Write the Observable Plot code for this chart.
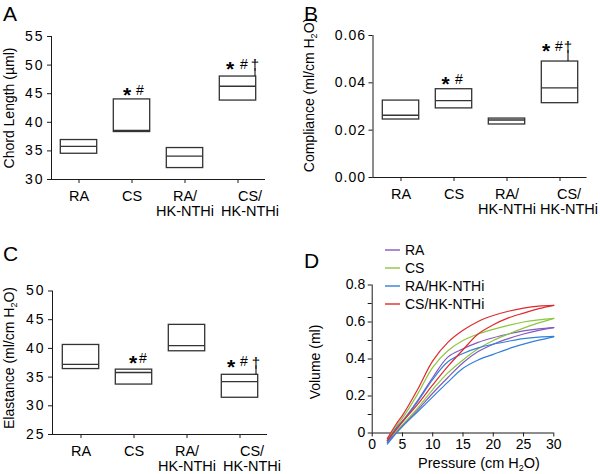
<!DOCTYPE html>
<html>
<head>
<meta charset="utf-8">
<script src="https://cdn.jsdelivr.net/npm/d3@7"></script>
<script src="https://cdn.jsdelivr.net/npm/@observablehq/plot@0.6"></script>
<style>
  html, body { margin: 0; padding: 0; background: #fff; }
  #wrap { position: relative; width: 600px; height: 474px; overflow: hidden;
          font-family: "Liberation Sans", Arial, sans-serif; color: #000; }
  .panel { position: absolute; }
  .ttl { position: absolute; white-space: nowrap; font-size: 14px; line-height: 1; }
  .rot { transform: translate(-50%, -50%) rotate(-90deg); }
  .ttl sub { font-size: 9px; vertical-align: -3px; line-height: 0; }
  .letter { position: absolute; font-size: 21px; line-height: 21px; }
  .sp2 [aria-label="y-axis tick label"] text { letter-spacing: 2px; }
  .sp1 [aria-label="y-axis tick label"] text { letter-spacing: 1px; }
  #legend { position: absolute; left: 385px; top: 241px; font-size: 14px; }
  #legend .row { display: flex; align-items: center; height: 18px; }
  #legend svg { margin-right: 5px; display: block; }
</style>
</head>
<body>
<div id="wrap">
  <div class="panel" id="pA" style="left:0;top:0"></div>
  <div class="panel" id="pB" style="left:300px;top:0"></div>
  <div class="panel" id="pC" style="left:0;top:237px"></div>
  <div class="panel" id="pD" style="left:300px;top:237px"></div>

  <div class="letter" style="left:3px;top:3px">A</div>
  <div class="letter" style="left:304px;top:3px">B</div>
  <div class="letter" style="left:3px;top:243px">C</div>
  <div class="letter" style="left:304px;top:250px">D</div>

  <div class="ttl rot" style="left:9px;top:108px">Chord Length (µml)</div>
  <div class="ttl rot" style="left:309px;top:95px">Compliance (ml/cm H<sub>2</sub>O)</div>
  <div class="ttl rot" style="left:9px;top:358px">Elastance (ml/cm H<sub>2</sub>O)</div>
  <div class="ttl rot" style="left:315px;top:362px">Volume (ml)</div>
  <div class="ttl" style="left:479px;top:463px;transform:translate(-50%,-50%);font-size:14.5px">Pressure (cm H<sub>2</sub>O)</div>

  <div id="legend"></div>
</div>
<script>
// ---------- data ----------
const groups = ["RA", "CS", "RA/HK-NTHi", "CS/HK-NTHi"];
const groupTickLabels = ["RA", "CS", "RA/\nHK-NTHi", "CS/\nHK-NTHi"];
const significance = ["", "*#", "", "*#†"];

const chordLow    = [34.5, 38.3, 32.0, 43.8];
const chordMedian = [35.8, 38.6, 34.1, 46.3];
const chordHigh   = [36.9, 44.0, 35.5, 48.0];
const chordTicks  = [30, 35, 40, 45, 50, 55];

const complianceLow    = [0.0245, 0.0292, 0.0224, 0.0314];
const complianceMedian = [0.0263, 0.0325, 0.0243, 0.0379];
const complianceHigh   = [0.0325, 0.0373, 0.0249, 0.0490];
const complianceTicks  = [0, 0.02, 0.04, 0.06];

const elastanceLow    = [36.4, 33.7, 39.5, 31.4];
const elastanceMedian = [37.2, 35.8, 40.5, 34.2];
const elastanceHigh   = [40.6, 36.3, 44.1, 35.4];
const elastanceTicks  = [25, 30, 35, 40, 45, 50];

const pressure = [2.5, 4, 5, 7.5, 10, 12.5, 15, 17.5, 20, 22.5, 25, 27.5, 30];
const inflationRA   = [-0.05, 0.005, 0.04, 0.125, 0.215, 0.30, 0.38, 0.44, 0.48, 0.51, 0.535, 0.555, 0.57];
const deflationRA   = [-0.04, 0.03, 0.065, 0.175, 0.30, 0.41, 0.455, 0.49, 0.515, 0.535, 0.552, 0.563, 0.57];
const inflationCS   = [-0.04, 0.01, 0.045, 0.135, 0.235, 0.325, 0.395, 0.455, 0.50, 0.535, 0.567, 0.595, 0.62];
const deflationCS   = [-0.03, 0.04, 0.08, 0.21, 0.355, 0.445, 0.50, 0.535, 0.56, 0.582, 0.60, 0.612, 0.62];
const inflationRAHK = [-0.06, 0.0, 0.035, 0.115, 0.195, 0.275, 0.35, 0.395, 0.425, 0.455, 0.48, 0.502, 0.52];
const deflationRAHK = [-0.05, 0.025, 0.06, 0.17, 0.29, 0.385, 0.43, 0.46, 0.48, 0.496, 0.51, 0.518, 0.522];
const inflationCSHK = [-0.04, 0.02, 0.06, 0.155, 0.26, 0.36, 0.45, 0.535, 0.585, 0.622, 0.648, 0.672, 0.69];
const deflationCSHK = [-0.03, 0.05, 0.095, 0.235, 0.39, 0.49, 0.555, 0.603, 0.635, 0.658, 0.675, 0.686, 0.69];
const pressureTicks = [0, 5, 10, 15, 20, 25, 30];
const volumeTicks = [0, 0.1, 0.2, 0.3, 0.4, 0.5, 0.6, 0.7, 0.8];

const seriesColors = ["#8459c0", "#8cc63f", "#3380d8", "#de2a2f"];

// ---------- helpers ----------
const FONT = "font-family:'Liberation Sans',Arial,sans-serif;font-size:14px;color:#000;background:transparent;overflow:visible;";
const INK = "#1a1a1a";
const BOX = "#333";

function boxPanel({low, median, high, domain, ticks, format, margins, annot, spacing, lastShift}) {
  const rows = groups.map((g, i) => ({group: g, low: low[i], median: median[i], high: high[i], sig: significance[i]}));
  const marks = [
    Plot.barY(rows, {x: "group", y1: "low", y2: "high", fill: "white", stroke: BOX, strokeWidth: 1.3, insetLeft: 8.3, insetRight: 8.3}),
    Plot.tickY(rows, {x: "group", y: "median", stroke: BOX, strokeWidth: 1.3, insetLeft: 8.3, insetRight: 8.3}),
    Plot.axisY({ticks, tickFormat: format, tickSize: 4, tickPadding: 3, label: null, stroke: INK, fontSize: 14}),
    Plot.axisX({tickSize: 4, tickFormat: null, label: null, stroke: INK}),
    Plot.ruleY([domain[0]], {stroke: INK}),
    Plot.frame({anchor: "left", stroke: INK})
  ];
  // category labels (two-line); the last one sits a little to the right as in the figure
  rows.forEach((r, i) => {
    marks.push(Plot.text([r], {x: "group", y: () => domain[0], text: () => groupTickLabels[i],
      lineAnchor: "top", fontSize: 14.5, lineHeight: 1.06, dy: 10.5, dx: i === rows.length - 1 ? lastShift : 0, fill: "#000"}));
  });
  for (const r of rows) {
    if (!r.sig) continue;
    const a = r.sig.length === 2 ? annot.two : annot.three;
    marks.push(Plot.text([r], {x: "group", y: "high", text: () => "*", fontSize: 21, fontWeight: "bold", dx: a.star, dy: -a.up + 5, fill: "#000"}));
    marks.push(Plot.text([r], {x: "group", y: "high", text: () => "#", fontSize: 14, dx: a.hash, dy: -a.up, fill: "#000"}));
    if (r.sig.includes("†")) {
      marks.push(Plot.text([r], {x: "group", y: "high", text: () => "†", fontSize: 15, dx: a.dagger, dy: -a.up + 1, fill: "#000"}));
      marks.push(Plot.ruleX([r], {x: "group", y1: "high", y2: "high", insetTop: -(a.up - 4), insetBottom: 0, dx: a.dagger, stroke: "#000", strokeWidth: 1}));
    }
  }
  return Plot.plot({
    width: 300, height: 237,
    ...margins,
    className: spacing,
    style: FONT,
    x: {domain: groups, padding: 0},
    y: {domain, nice: false},
    marks
  });
}

document.getElementById("pA").append(boxPanel({
  low: chordLow, median: chordMedian, high: chordHigh,
  domain: [30, 55], ticks: chordTicks, format: d => String(d),
  margins: {marginLeft: 51, marginRight: 35, marginTop: 36, marginBottom: 58},
  annot: {two: {star: -5, hash: 8, up: 9}, three: {star: -8, hash: 6, dagger: 17, up: 12}},
  spacing: "sp2", lastShift: 12
}));

document.getElementById("pB").append(boxPanel({
  low: complianceLow, median: complianceMedian, high: complianceHigh,
  domain: [0, 0.06], ticks: complianceTicks, format: d3.format(".2f"),
  margins: {marginLeft: 72.5, marginRight: 13.5, marginTop: 35, marginBottom: 60},
  annot: {two: {star: -8.5, hash: 5, up: 10}, three: {star: -14, hash: -1, dagger: 8, up: 15}},
  spacing: "sp1", lastShift: 9
}));

document.getElementById("pC").append(boxPanel({
  low: elastanceLow, median: elastanceMedian, high: elastanceHigh,
  domain: [25, 50], ticks: elastanceTicks, format: d => String(d),
  margins: {marginLeft: 52, marginRight: 33, marginTop: 53.5, marginBottom: 40},
  annot: {two: {star: -1, hash: 9, up: 11}, three: {star: -9, hash: 4, dagger: 16, up: 13}},
  spacing: "sp2", lastShift: 12
}));

// ---------- panel D ----------
const loops = [
  [inflationRA, deflationRA],
  [inflationCS, deflationCS],
  [inflationRAHK, deflationRAHK],
  [inflationCSHK, deflationCSHK]
];
const pv = [];
loops.forEach(([inf, def], gi) => {
  pressure.forEach((p, i) => pv.push({group: groups[gi], limb: "in", p, v: inf[i]}));
  pressure.forEach((p, i) => pv.push({group: groups[gi], limb: "de", p, v: def[i]}));
});

document.getElementById("pD").append(Plot.plot({
  width: 300, height: 237,
  marginLeft: 71.7, marginRight: 46.7, marginTop: 47.5, marginBottom: 41.5,
  style: FONT,
  x: {domain: [0, 30]},
  y: {domain: [0, 0.8]},
  color: {domain: groups, range: seriesColors},
  marks: [
    Plot.axisY({ticks: volumeTicks, tickSize: 4, tickPadding: 3, label: null, stroke: INK, fontSize: 14,
      tickFormat: d => (Math.round(d * 10) % 2 === 0 ? (d === 0 ? "0" : d.toFixed(1)) : "")}),
    Plot.axisX({ticks: pressureTicks, tickSize: 4, tickPadding: 2, label: null, stroke: INK, fontSize: 14, tickFormat: d => String(d)}),
    Plot.ruleY([0], {stroke: INK}),
    Plot.ruleX([0], {stroke: INK}),
    Plot.line(pv, {x: "p", y: "v", z: d => d.group + d.limb, stroke: "group", strokeWidth: 1.2, curve: "catmull-rom"})
  ]
}));

// legend
const legend = document.getElementById("legend");
const svgNS = "http://www.w3.org/2000/svg";
groups.forEach((g, i) => {
  const row = document.createElement("div");
  row.className = "row";
  const sw = document.createElementNS(svgNS, "svg");
  sw.setAttribute("width", "15");
  sw.setAttribute("height", "4");
  const ln = document.createElementNS(svgNS, "line");
  ln.setAttribute("x1", "0"); ln.setAttribute("x2", "15");
  ln.setAttribute("y1", "2"); ln.setAttribute("y2", "2");
  ln.setAttribute("stroke", seriesColors[i]);
  ln.setAttribute("stroke-width", "1.4");
  sw.append(ln);
  const t = document.createElement("span");
  t.textContent = g;
  row.append(sw, t);
  legend.append(row);
});
</script>
</body>
</html>
